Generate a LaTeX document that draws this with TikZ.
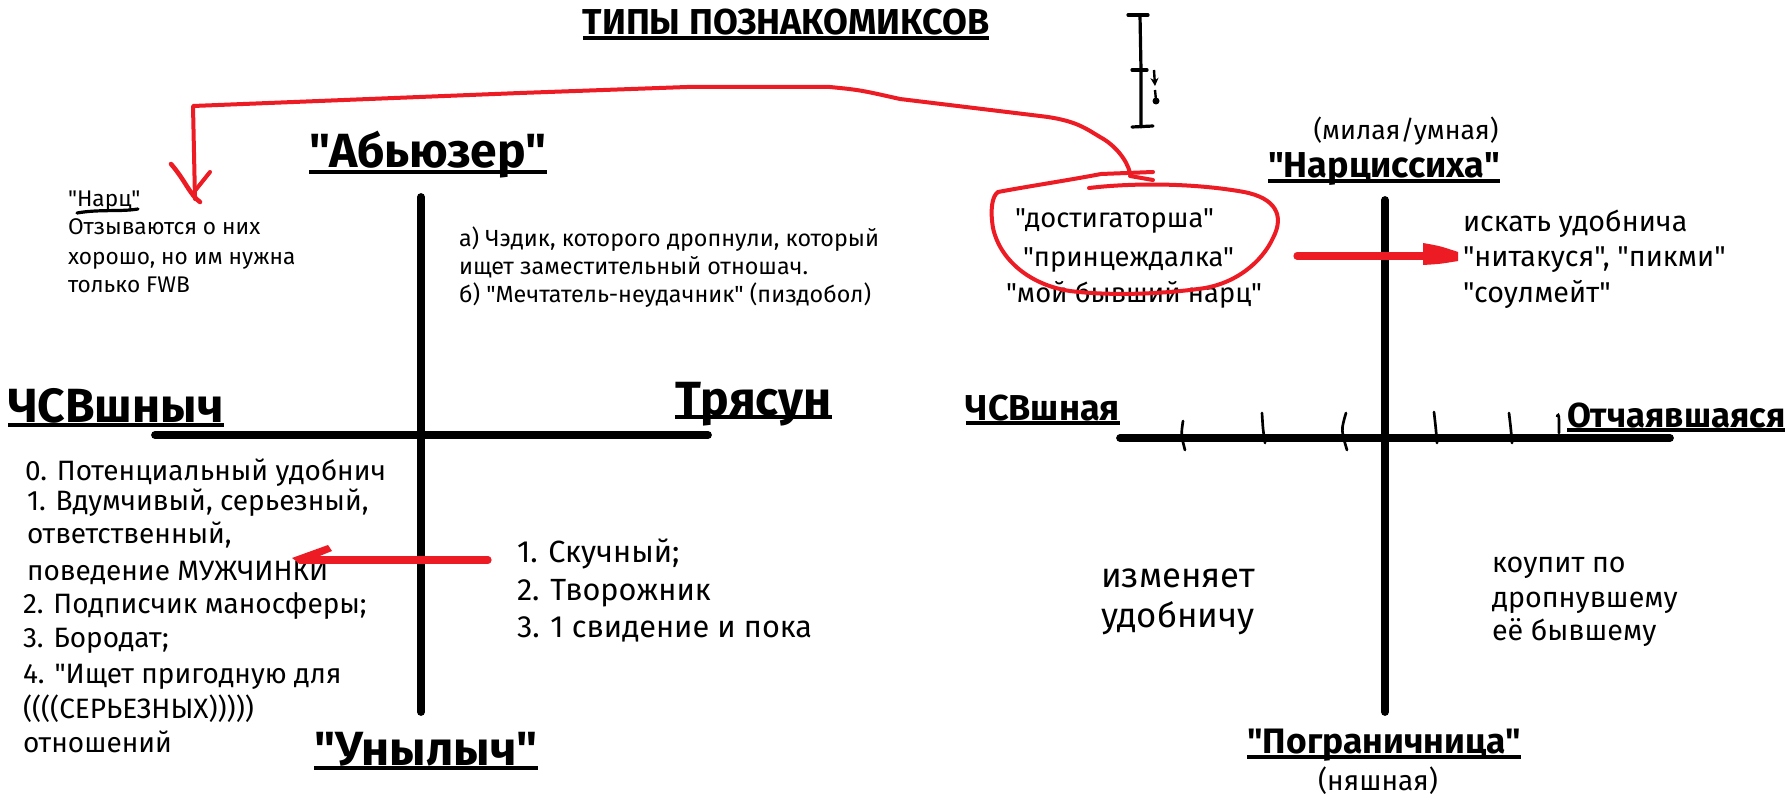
\documentclass[tikz,border=0pt]{standalone}
\usepackage{fontspec}
\setmainfont{Fira Sans}[Ligatures=TeXOff]
\usetikzlibrary{calc,arrows.meta}
\definecolor{pred}{HTML}{ED1C24}
\newcommand\fsz[1]{\fontsize{#1}{#1}\selectfont}
\begin{document}
\begin{tikzpicture}[x=0.75pt,y=-0.75pt,
  txt/.style={inner sep=0pt, outer sep=0pt, anchor=base west, text=black},
  bigA/.style={txt, font=\fsz{36}\bfseries},
  bigB/.style={txt, font=\fsz{27}\bfseries},
  tN/.style={txt, font=\fsz{17}},
  tA/.style={txt, font=\fsz{17.5}},
  tL/.style={txt, font=\fsz{21}},
  tT/.style={txt, font=\fsz{23}},
  tE/.style={txt, font=\fsz{20.5}},
  tR/.style={txt, font=\fsz{21.5}},
  tI/.style={txt, font=\fsz{26}},
  tK/.style={txt, font=\fsz{21.5}},
  axis/.style={line width=5.8pt, line cap=round},
  ul/.style={line width=2.6pt},
  redl/.style={draw=pred, line width=3pt, line cap=round, line join=round},
  redthick/.style={draw=pred, line width=5.4pt, line cap=round},
  tickl/.style={line width=2pt, line cap=round},
  ibeam/.style={line width=2.4pt, line cap=round}]
\useasboundingbox (0,0) rectangle (1789,809);
\fill[white] (0,0) rectangle (1789,809);

% ---------- bold labels ----------
\node[bigB, anchor=base] (title) at (786,35) {ТИПЫ ПОЗНАКОМИКСОВ};
\node[bigA, anchor=base] (abz) at (428,168) {"Абьюзер"};
\node[bigA] (csvm) at (8,422) {ЧСВшныч};
\node[bigA] (tr) at (675,415) {Трясун};
\node[bigA, anchor=base] (un) at (426,765) {"Унылыч"};
\node[bigB, anchor=base] (nar) at (1384,178) {"Нарциссиха"};
\node[bigB, anchor=base east] (csvf) at (1120,420) {ЧСВшная};
\node[bigB, font=\fsz{26}\bfseries] (otch) at (1567,427) {Отчаявшаяся};
\node[bigB, anchor=base, font=\fsz{26.5}\bfseries] (pog) at (1384,753) {"Пограничница"};
\foreach \n/\d in {title/3,abz/4,csvm/3,tr/2,un/3,nar/3,csvf/3,otch/3,pog/4}
  \draw[ul] ($(\n.base west)+(0,\d)$) -- ($(\n.base east)+(0,\d)$);

% ---------- axes ----------
\coordinate (lt) at (421,197); \coordinate (lb) at (421,712);
\coordinate (ll) at (155,435); \coordinate (lr) at (708,435);
\draw[axis] (lt) -- (lb);
\draw[axis] (ll) -- (lr);
\coordinate (rt) at (1385,200); \coordinate (rb) at (1385,712);
\coordinate (rl) at (1120,438); \coordinate (rr) at (1670,438);
\draw[axis] (rt) -- (rb);
\draw[axis] (rl) -- (rr);
% ticks
\draw[tickl] (1183,421) .. controls (1181,435) .. (1185,450);
\draw[tickl] (1262,413) .. controls (1263,430) .. (1265,443);
\draw[tickl] (1346,413) .. controls (1341,430) .. (1347,450);
\draw[tickl] (1434,412) .. controls (1436,430) .. (1437,443);
\draw[tickl] (1509,413) .. controls (1511,430) .. (1512,443);
\draw[tickl] (1557,416) .. controls (1559,414) .. (1559,433);

% ---------- texts ----------
\node[tN] (n1) at (68,207) {"Нарц"};
\node[tN] (n2) at (68,235) {Отзываются о них};
\node[tN] (n3) at (68,265) {хорошо, но им нужна};
\node[tN] (n4) at (68,293) {только FWB};
\draw[line width=2.4pt, line cap=round] (77,213) .. controls (100,209) and (120,212) .. (138,209);

\node[tA] (a1) at (459,247) {а) Чэдик, которого дропнули, который};
\node[tA] (a2) at (459,275) {ищет заместительный отношач.};
\node[tA] (a3) at (459,303) {б) "Мечтатель-неудачник" (пиздобол)};

\node[tL] (l0) at (25,480) {0. Потенциальный удобнич};
\node[tL] (l1) at (27,510) {1. Вдумчивый, серьезный,};
\node[tL] (l2) at (27,543) {ответственный,};
\node[tL] (l3) at (27,580) {поведение МУЖЧИНКИ};
\node[tL] (l4) at (23,613) {2. Подписчик маносферы;};
\node[tL] (l5) at (23,647) {3. Бородат;};
\node[tL] (l6) at (23,683) {4. "Ищет пригодную для};
\node[tL] (l7) at (23,718) {((((СЕРЬЕЗНЫХ)))))};
\node[tL] (l8) at (23,752) {отношений};

\node[tT] (s1) at (517,562) {1. Скучный;};
\node[tT] (s2) at (517,600) {2. Творожник};
\node[tT] (s3) at (517,637) {3. 1 свидение и пока};

\node[tE] (e1) at (1015,228) {"достигаторша"};
\node[tE] (e2) at (1023,267) {"принцеждалка"};
\node[tE] (e3) at (1006,303) {"мой бывший нарц"};

\node[tR] (r1) at (1463,232) {искать удобнича};
\node[tR] (r2) at (1463,267) {"нитакуся", "пикми"};
\node[tR] (r3) at (1463,303) {"соулмейт"};
\node[tE, anchor=base, font=\fsz{20}] (mil) at (1406,140) {(милая/умная)};
\node[tE, anchor=base, font=\fsz{21}] (nya) at (1378,790) {(няшная)};

\node[tI] (i1) at (1101,587) {изменяет};
\node[tI] (i2) at (1101,627) {удобничу};
\node[tK] (k1) at (1492,572) {коупит по};
\node[tK] (k2) at (1492,607) {дропнувшему};
\node[tK] (k3) at (1492,640) {её бывшему};

% ---------- I-beam ----------
\draw[ibeam] (1140,15) -- (1141,70) -- (1141,127);
\draw[ibeam] (1128,15) -- (1148,15);
\draw[ibeam] (1132,70) -- (1147,70);
\draw[ibeam] (1132,127) -- (1153,126);
\draw[line width=1.8pt, -{Stealth[length=6pt,width=6pt]}] (1154,70) -- (1155,86);
\draw[line width=1.8pt] (1155,90) -- (1156,100);
\fill (1156,101) circle (3.5);

% ---------- red ellipse ----------
\coordinate (ctop) at (1130,173);
\draw[redl] (1089,188) .. controls (1140,182) and (1200,184) .. (1244,192)
  .. controls (1275,198) and (1285,215) .. (1273,238)
  .. controls (1262,262) and (1235,285) .. (1198,289)
  .. controls (1160,294) and (1110,296) .. (1070,291)
  .. controls (1030,285) and (1000,260) .. (993,228)
  .. controls (990,210) and (992,196) .. (998,192)
  .. controls (1030,186) and (1070,180) .. (1101,174) -- (1153,172);
\draw[redl] (1130,176) -- (1153,180);

% ---------- red connector to "Нарц" ----------
\coordinate (corner) at (193,106);
\coordinate (narTip) at (195,199);
\draw[redl] (ctop) .. controls (1127,160) and (1115,145) .. (1100,137)
  .. controls (1085,128) and (1075,120) .. (1040,116)
  -- (900,99) .. controls (860,90) .. (830,87) -- (687,87) -- (520,93) -- (corner) -- (narTip);
\draw[pred, line width=3.4pt, line cap=round] (171,164) .. controls (185,180) and (190,195) .. (200,202);
\draw[pred, line width=3pt, line cap=round] (210,172) -- (194,192);

% ---------- red thick arrows ----------
\coordinate (ra1) at (1297,256); \coordinate (ra2) at (1428,256);
\draw[redthick] (ra1) -- (ra2);
\fill[pred] (1423,243) .. controls (1440,246) .. (1458,252) -- (1458,261)
  .. controls (1440,264) .. (1423,265) -- cycle;

\coordinate (la1) at (488,560); \coordinate (la2) at (300,560);
\draw[redthick] (la1) -- (la2);
\fill[pred] (292,558) -- (328,545) -- (332,551) -- (300,564) -- cycle;

\end{tikzpicture}
\end{document}
